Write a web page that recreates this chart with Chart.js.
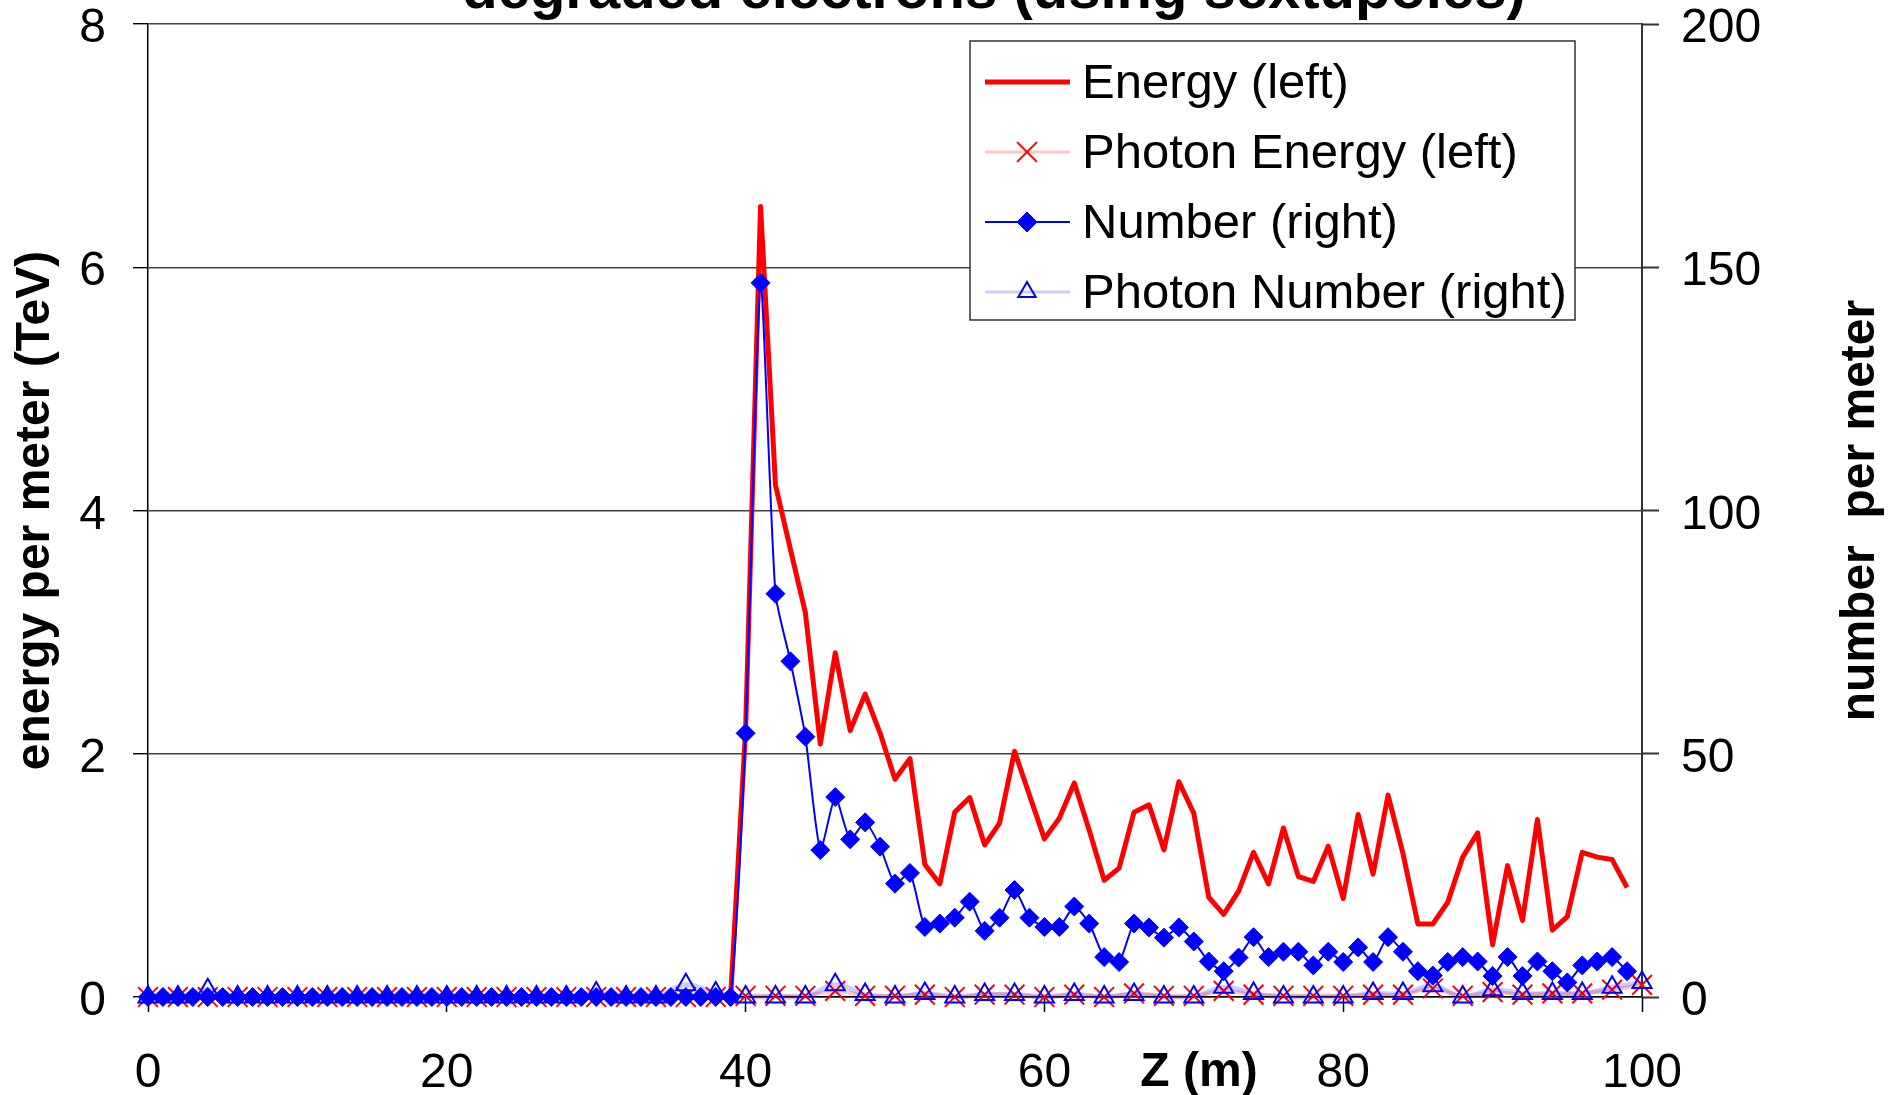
<!DOCTYPE html>
<html>
<head>
<meta charset="utf-8">
<title>degraded electrons (using sextupoles)</title>
<script src="https://cdn.jsdelivr.net/npm/chart.js@4.4.0/dist/chart.umd.min.js"></script>
<style>
	html, body { margin: 0; padding: 0; background: #fff; }
	canvas { display: block; }
</style>
</head>
<body>
<canvas id="mycanvas" width="1889" height="1095"></canvas>
<script>
var chartTitle = 'degraded electrons (using sextupoles)';
var leftTitle = 'energy per meter (TeV)';
var rightTitle = 'number  per meter';
var bottomTitle = 'Z (m)';

var xTicks = [0, 20, 40, 60, 80, 100];
var leftTicks = [0, 2, 4, 6, 8];
var rightTicks = [0, 50, 100, 150, 200];

// positions along the beam line (m)
var z = [0, 1, 2, 3, 4, 5, 6, 7, 8, 9,
	10, 11, 12, 13, 14, 15, 16, 17, 18, 19,
	20, 21, 22, 23, 24, 25, 26, 27, 28, 29,
	30, 31, 32, 33, 34, 35, 36, 37, 38, 39,
	40, 41, 42, 43, 44, 45, 46, 47, 48, 49,
	50, 51, 52, 53, 54, 55, 56, 57, 58, 59,
	60, 61, 62, 63, 64, 65, 66, 67, 68, 69,
	70, 71, 72, 73, 74, 75, 76, 77, 78, 79,
	80, 81, 82, 83, 84, 85, 86, 87, 88, 89,
	90, 91, 92, 93, 94, 95, 96, 97, 98, 99];

// TeV per meter
var energy = [0, 0, 0, 0, 0, 0, 0, 0, 0, 0,
	0, 0, 0, 0, 0, 0, 0, 0, 0, 0,
	0, 0, 0, 0, 0, 0, 0, 0, 0, 0,
	0, 0, 0, 0, 0, 0, 0, 0, 0, 0,
	2.2, 6.5, 4.21, 3.68, 3.16, 2.08, 2.83, 2.19, 2.49, 2.17,
	1.79, 1.96, 1.09, 0.93, 1.52, 1.64, 1.25, 1.43, 2.02, 1.66,
	1.30, 1.47, 1.76, 1.37, 0.96, 1.06, 1.52, 1.58, 1.21, 1.77,
	1.51, 0.82, 0.68, 0.87, 1.19, 0.93, 1.39, 0.99, 0.95, 1.24,
	0.81, 1.50, 1.01, 1.66, 1.18, 0.60, 0.60, 0.78, 1.15, 1.35,
	0.43, 1.08, 0.63, 1.46, 0.55, 0.66, 1.19, 1.15, 1.13, 0.90];

// electrons per meter
var number = [0, 0, 0, 0, 0, 0, 0, 0, 0, 0,
	0, 0, 0, 0, 0, 0, 0, 0, 0, 0,
	0, 0, 0, 0, 0, 0, 0, 0, 0, 0,
	0, 0, 0, 0, 0, 0, 0, 0, 0, 0,
	54.2, 146.8, 82.9, 69.0, 53.5, 30.2, 41.1, 32.4, 35.9, 30.9,
	23.3, 25.5, 14.4, 15.1, 16.3, 19.6, 13.6, 16.3, 22.0, 16.3,
	14.4, 14.4, 18.6, 15.1, 8.2, 7.2, 15.1, 14.3, 12.2, 14.3,
	11.4, 7.3, 5.3, 8.1, 12.3, 8.2, 9.3, 9.3, 6.5, 9.3,
	7.2, 10.2, 7.2, 12.3, 9.3, 5.3, 4.4, 7.2, 8.2, 7.3,
	4.3, 8.2, 4.3, 7.3, 5.3, 3.0, 6.5, 7.3, 8.2, 5.3];

// photons are sampled every 2 m
var zPhoton = [0, 2, 4, 6, 8, 10, 12, 14, 16, 18,
	20, 22, 24, 26, 28, 30, 32, 34, 36, 38,
	40, 42, 44, 46, 48, 50, 52, 54, 56, 58,
	60, 62, 64, 66, 68, 70, 72, 74, 76, 78,
	80, 82, 84, 86, 88, 90, 92, 94, 96, 98, 100];

var photonEnergy = [0, 0, 0, 0, 0, 0, 0, 0, 0, 0,
	0, 0, 0, 0, 0, 0, 0, 0, 0, 0,
	0.01, 0.01, 0.01, 0.05, 0.01, 0.01, 0.02, 0, 0.02, 0.02,
	0, 0.02, 0, 0.03, 0.01, 0.01, 0.05, 0.02, 0.01, 0.01,
	0.01, 0.02, 0.02, 0.07, 0.01, 0.04, 0.02, 0.03, 0.03, 0.06, 0.1];

var photonNumber = [0, 0, 1.5, 0, 0, 0, 0, 0, 0, 0,
	0, 0, 0, 0, 0, 0.8, 0, 0, 2.5, 0.8,
	0, 0, 0, 2.5, 0.5, 0, 0.7, 0, 0.5, 0.5,
	0, 0.5, 0, 0.5, 0, 0, 2.0, 0.7, 0, 0,
	0, 0.7, 0.7, 2.3, 0, 1.5, 0.7, 0.7, 0.7, 2.0, 3.0];

function pairs(xs, ys) {
	var out = [];
	for (var i in xs) {
		out.push({x: xs[i], y: ys[i]});
	}
	return out;
}

function fixedTicks(list) {
	return function(scale) {
		scale.ticks = list.map(function(v) { return {value: v}; });
	};
}

// Chart.js reserves twice the tick padding, so pin the axis boxes to the
// reference layout instead
function boxSize(w, h) {
	return function(scale) {
		if (w) scale.width = w;
		if (h) scale.height = h;
		scale.paddingTop = 0;
		scale.paddingBottom = 0;
		scale.paddingLeft = 0;
		scale.paddingRight = 0;
	};
}

var FONT = '"Liberation Sans", Arial, Helvetica, sans-serif';
Chart.defaults.font.family = FONT;
Chart.defaults.color = '#000';

// title cut by the top edge, the odd axis labels and the boxed legend
var extras = {
	id: 'extras',
	afterDraw: function(chart) {
		var ctx = chart.ctx;
		var area = chart.chartArea;
		var midY = (area.top + area.bottom) / 2;

		ctx.save();
		ctx.fillStyle = '#000';
		ctx.textAlign = 'center';
		ctx.font = 'bold 58px ' + FONT;
		ctx.textBaseline = 'alphabetic';
		ctx.fillText(chartTitle, 994, 8);

		ctx.font = 'bold 48px ' + FONT;
		ctx.textBaseline = 'middle';
		ctx.fillText(bottomTitle, 1199, 1073);

		ctx.translate(1861, midY);
		ctx.rotate(-Math.PI / 2);
		ctx.fillText(rightTitle, 0, 0);
		ctx.restore();

		// legend
		ctx.save();
		ctx.fillStyle = '#fff';
		ctx.fillRect(970, 41, 605, 279);
		ctx.strokeStyle = '#333';
		ctx.lineWidth = 1.5;
		ctx.strokeRect(970, 41, 605, 279);
		chart.data.datasets.forEach(function(ds, i) {
			var y = 82 + i * 70;
			ctx.strokeStyle = ds.borderColor;
			ctx.lineWidth = ds.legendLine;
			ctx.beginPath();
			ctx.moveTo(985, y);
			ctx.lineTo(1070, y);
			ctx.stroke();
			if (ds.pointRadius > 0) {
				ctx.strokeStyle = ds.pointBorderColor;
				ctx.fillStyle = ds.pointBackgroundColor;
				ctx.lineWidth = ds.pointBorderWidth;
				Chart.helpers.drawPoint(ctx, {
					pointStyle: ds.pointStyle,
					radius: ds.legendRadius,
					borderWidth: ds.pointBorderWidth,
					rotation: 0
				}, 1027, y);
			}
			ctx.fillStyle = '#000';
			ctx.font = '49px ' + FONT;
			ctx.textAlign = 'left';
			ctx.textBaseline = 'middle';
			ctx.fillText(ds.label, 1082, y + 2);
		});
		ctx.restore();
	}
};

var chartdata = {
	datasets: [
		{
			label: 'Energy (left)',
			data: pairs(z, energy),
			yAxisID: 'y',
			borderColor: '#ff0000',
			borderWidth: 5,
			legendLine: 5,
			borderJoinStyle: 'round',
			pointRadius: 0,
			tension: 0,
			order: 3
		},
		{
			label: 'Photon Energy (left)',
			data: pairs(zPhoton, photonEnergy),
			yAxisID: 'y',
			borderColor: 'rgba(255, 0, 0, 0.22)',
			borderWidth: 4,
			legendLine: 3,
			pointStyle: 'crossRot',
			pointRadius: 14,
			legendRadius: 14,
			pointBorderColor: '#ff0000',
			pointBackgroundColor: 'rgba(0, 0, 0, 0)',
			pointBorderWidth: 2,
			tension: 0.4,
			order: 2
		},
		{
			label: 'Number (right)',
			data: pairs(z, number),
			yAxisID: 'y1',
			borderColor: '#0000ff',
			borderWidth: 2,
			legendLine: 2,
			pointStyle: 'rectRot',
			pointRadius: 9.5,
			legendRadius: 10,
			pointBorderColor: '#0000ff',
			pointBackgroundColor: '#0000ff',
			pointBorderWidth: 1,
			tension: 0.2,
			order: 1
		},
		{
			label: 'Photon Number (right)',
			data: pairs(zPhoton, photonNumber),
			yAxisID: 'y1',
			borderColor: 'rgba(0, 0, 255, 0.2)',
			borderWidth: 5,
			legendLine: 3,
			pointStyle: 'triangle',
			pointRadius: 11,
			legendRadius: 10,
			pointBorderColor: '#0000ff',
			pointBackgroundColor: 'rgba(0, 0, 0, 0)',
			pointBorderWidth: 2,
			tension: 0.4,
			order: 0
		}
	]
};

var ctx = document.getElementById('mycanvas');

var lineGraph = new Chart(ctx, {
	type: 'line',
	data: chartdata,
	plugins: [extras],
	options: {
		responsive: false,
		animation: false,
		layout: { padding: { top: 24, right: 0, left: 0, bottom: 0 }, autoPadding: false },
		datasets: { line: { clip: false } },
		plugins: {
			legend: { display: false },
			tooltip: { enabled: false },
			title: { display: false }
		},
		scales: {
			x: {
				type: 'linear',
				min: 0,
				max: 100,
				afterBuildTicks: fixedTicks(xTicks),
				afterFit: boxSize(0, 98),
				border: { display: true, color: '#000', width: 1.5 },
				grid: { drawOnChartArea: false, drawTicks: true, tickLength: 15, tickColor: '#000', tickWidth: 1.5 },
				ticks: { padding: 38, maxRotation: 0, font: { size: 48, lineHeight: 1 } }
			},
			y: {
				position: 'left',
				min: 0,
				max: 8,
				afterBuildTicks: fixedTicks(leftTicks),
				afterFit: boxSize(148, 0),
				border: { display: true, color: '#000', width: 1.5 },
				grid: { color: 'rgba(0, 0, 0, 0.75)', lineWidth: 1.4, tickLength: 15, tickColor: '#000' },
				ticks: { padding: 27, labelOffset: 5, font: { size: 48, lineHeight: 1 } },
				title: {
					display: true,
					text: leftTitle,
					font: { size: 48, weight: 'bold' },
					padding: { top: 7, bottom: 15 }
				}
			},
			y1: {
				position: 'right',
				min: 0,
				max: 200,
				afterBuildTicks: fixedTicks(rightTicks),
				afterFit: boxSize(247, 0),
				border: { display: true, color: '#333', width: 2 },
				grid: { drawOnChartArea: false, drawTicks: true, tickLength: 17, tickColor: '#333', tickWidth: 2 },
				ticks: { padding: 22, labelOffset: 5, font: { size: 48, lineHeight: 1 } }
			}
		}
	}
});
</script>
</body>
</html>
